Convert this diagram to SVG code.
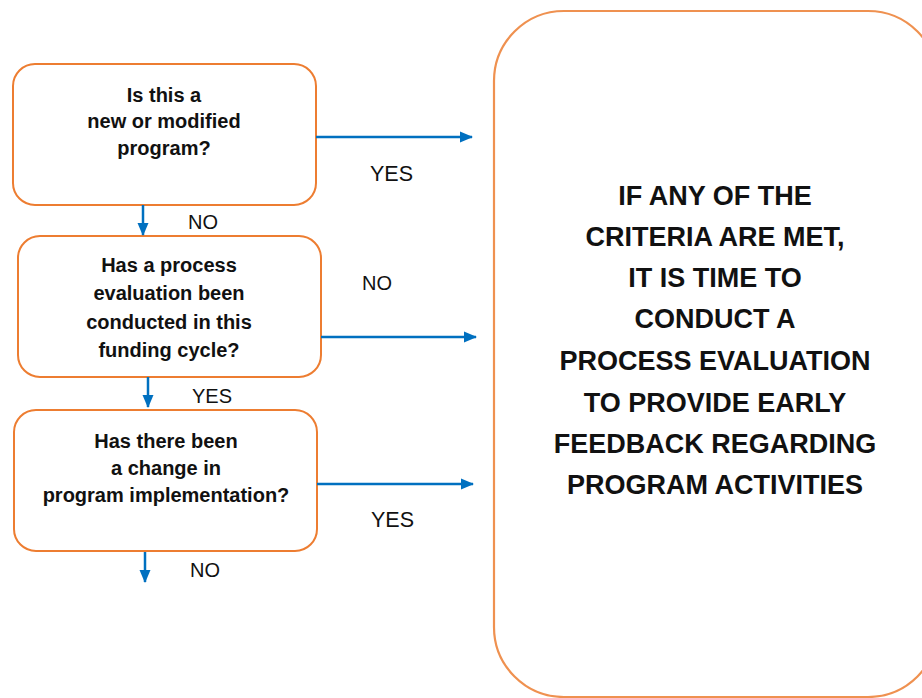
<svg xmlns="http://www.w3.org/2000/svg" width="922" height="698" viewBox="0 0 922 698">
<style>
.box{fill:#fff;stroke:#ED7D31;stroke-width:2}
.big{fill:#fff;stroke:#EF9150;stroke-width:2.2}
.q{font-family:"Liberation Sans",Arial,sans-serif;font-weight:bold;font-size:20px;fill:#111;text-anchor:middle}
.lbl{font-family:"Liberation Sans",Arial,sans-serif;font-size:20px;fill:#111}
.lblb{font-family:"Liberation Sans",Arial,sans-serif;font-size:21.5px;fill:#111}
.main{font-family:"Liberation Sans",Arial,sans-serif;font-weight:bold;font-size:27px;fill:#111;text-anchor:middle}
.arr{stroke:#0070C0;stroke-width:2.5;fill:none;marker-end:url(#ah)}
</style>
<defs>
<marker id="ah" markerWidth="13" markerHeight="12" refX="12" refY="6" orient="auto" markerUnits="userSpaceOnUse">
<path d="M0,0.5 L13,6 L0,11.5 Z" fill="#0070C0"/>
</marker>
</defs>
<g id="result">
<rect class="big" x="494" y="11" width="444" height="686" rx="70" ry="70"/>
<text class="main" x="715" y="205">IF ANY OF THE</text>
<text class="main" x="715" y="246">CRITERIA ARE MET,</text>
<text class="main" x="715" y="287">IT IS TIME TO</text>
<text class="main" x="715" y="328">CONDUCT A</text>
<text class="main" x="715" y="370">PROCESS EVALUATION</text>
<text class="main" x="715" y="412">TO PROVIDE EARLY</text>
<text class="main" x="715" y="453">FEEDBACK REGARDING</text>
<text class="main" x="715" y="494">PROGRAM ACTIVITIES</text>
</g>
<g id="q1">
<rect class="box" x="13" y="64" width="303" height="141" rx="22" ry="22"/>
<text class="q" x="164" y="102">Is this a</text>
<text class="q" x="164" y="128">new or modified</text>
<text class="q" x="164" y="155">program?</text>
</g>
<g id="q2">
<rect class="box" x="18" y="236" width="303" height="141" rx="22" ry="22"/>
<text class="q" x="169" y="272">Has a process</text>
<text class="q" x="169" y="300">evaluation been</text>
<text class="q" x="169" y="329">conducted in this</text>
<text class="q" x="169" y="357">funding cycle?</text>
</g>
<g id="q3">
<rect class="box" x="14" y="410" width="303" height="141" rx="22" ry="22"/>
<text class="q" x="166" y="448">Has there been</text>
<text class="q" x="166" y="475">a change in</text>
<text class="q" x="166" y="502" font-size="20.5">program implementation?</text>
</g>
<g id="connectors">
<line class="arr" x1="316" y1="137" x2="472" y2="137"/>
<line class="arr" x1="321" y1="337" x2="476" y2="337"/>
<line class="arr" x1="317" y1="484" x2="473" y2="484"/>
<line class="arr" x1="143" y1="205" x2="143" y2="235"/>
<line class="arr" x1="148" y1="377" x2="148" y2="407"/>
<line class="arr" x1="145" y1="552" x2="145" y2="582"/>
<text class="lblb" x="370" y="181">YES</text>
<text class="lbl" x="362" y="290">NO</text>
<text class="lblb" x="371" y="527">YES</text>
<text class="lbl" x="188" y="229">NO</text>
<text class="lbl" x="192" y="403">YES</text>
<text class="lbl" x="190" y="577">NO</text>
</g>
</svg>
